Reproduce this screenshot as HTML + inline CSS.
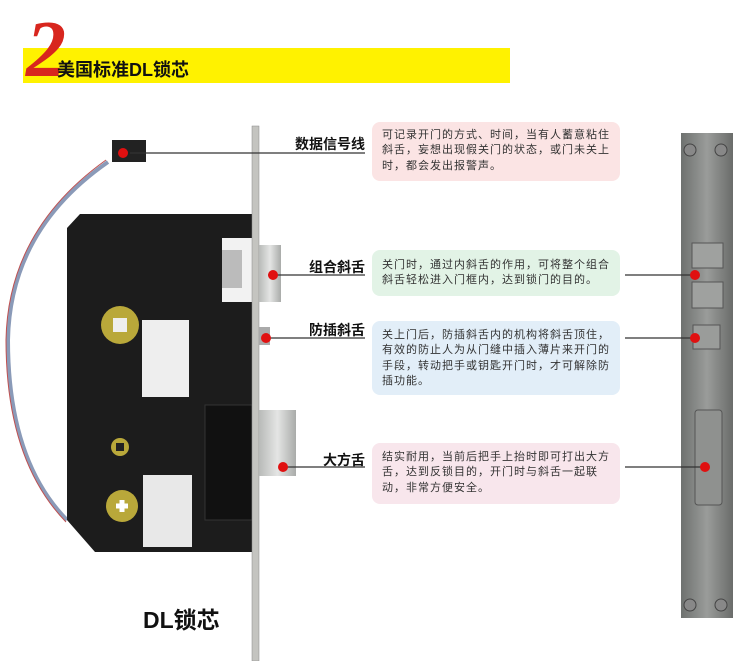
<!DOCTYPE html>
<html><head><meta charset="utf-8"><style>
body{margin:0;background:#fff;}
#c{position:relative;width:750px;height:661px;overflow:hidden;background:#fff;font-family:"Liberation Sans","Noto Sans CJK SC",sans-serif;}
.a{position:absolute;}
.box{position:absolute;border-radius:8px;font-size:11px;line-height:15.3px;color:#333;padding:6px 6px 0 10px;box-sizing:border-box;letter-spacing:1px;}
.lab{position:absolute;right:385px;font-weight:bold;font-size:14px;color:#111;width:120px;text-align:right;}
</style></head><body><div id="c">
<div class="a" style="left:23px;top:48px;width:487px;height:35px;background:#fff200"></div>
<div class="a" style="left:26px;top:10px;font-family:'Liberation Serif',serif;font-style:italic;font-weight:bold;font-size:80px;color:#d8261e;line-height:80px">2</div>
<div class="a" style="left:57px;top:56px;font-weight:bold;font-size:18px;color:#111">美国标准DL锁芯</div>

<svg class="a" style="left:0;top:0" width="750" height="661">
<defs>
<linearGradient id="g1" x1="0" x2="1"><stop offset="0" stop-color="#6e716f"/><stop offset=".5" stop-color="#9a9c9a"/><stop offset="1" stop-color="#6a6c6a"/></linearGradient>
<linearGradient id="g2" x1="0" x2="1"><stop offset="0" stop-color="#b8bab8"/><stop offset=".5" stop-color="#e4e5e4"/><stop offset="1" stop-color="#a9aba9"/></linearGradient>
</defs>
<path d="M108 162 Q10 230 8 340 Q8 460 67 520" fill="none" stroke="#8a9ab8" stroke-width="4"/>
<path d="M106 160 Q8 230 6 340 Q6 460 66 522" fill="none" stroke="#c05050" stroke-width="1"/>
<rect x="112" y="140" width="34" height="22" fill="#222"/>
<path d="M80 214 L252 214 L252 552 L95 552 L67 520 L67 228 Z" fill="#1c1c1c"/>
<rect x="222" y="238" width="30" height="64" fill="#f2f2f2"/>
<rect x="222" y="250" width="20" height="38" fill="#bbb"/>
<rect x="205" y="405" width="47" height="115" fill="#111" stroke="#333"/>
<circle cx="120" cy="325" r="19" fill="#b9a83a"/><rect x="113" y="318" width="14" height="14" fill="#eee"/>
<circle cx="122" cy="506" r="16" fill="#b9a83a"/><path d="M116 506h12M122 500v12" stroke="#fff" stroke-width="5"/>
<circle cx="120" cy="447" r="9" fill="#b9a83a"/><rect x="116" y="443" width="8" height="8" fill="#222"/>
<rect x="142" y="320" width="47" height="77" fill="#eee"/>
<rect x="143" y="475" width="49" height="72" fill="#e8e8e8"/>
<rect x="252" y="126" width="7" height="535" fill="#c4c4c0" stroke="#888" stroke-width=".5"/>
<rect x="259" y="245" width="22" height="57" fill="url(#g2)"/>
<rect x="259" y="327" width="11" height="18" fill="#aaa"/>
<rect x="259" y="410" width="37" height="66" fill="url(#g2)"/>
<rect x="681" y="133" width="52" height="485" fill="url(#g1)"/>
<g fill="#888" stroke="#444"><circle cx="690" cy="150" r="6"/><circle cx="721" cy="150" r="6"/><circle cx="690" cy="605" r="6"/><circle cx="721" cy="605" r="6"/></g>
<rect x="692" y="243" width="31" height="25" fill="#9fa19f" stroke="#555"/>
<rect x="692" y="282" width="31" height="26" fill="#9fa19f" stroke="#555"/>
<rect x="693" y="325" width="27" height="24" fill="#9a9c9a" stroke="#555"/>
<rect x="695" y="410" width="27" height="95" fill="#8f918f" stroke="#555" rx="3"/>
<g stroke="#333" stroke-width="1.3">
<line x1="130" y1="153" x2="365" y2="153"/><line x1="268" y1="275" x2="365" y2="275"/>
<line x1="266" y1="338" x2="365" y2="338"/><line x1="283" y1="467" x2="365" y2="467"/>
<line x1="625" y1="275" x2="695" y2="275"/><line x1="625" y1="338" x2="695" y2="338"/><line x1="625" y1="467" x2="705" y2="467"/>
</g>
<g fill="#e01010"><circle cx="123" cy="153" r="5"/><circle cx="273" cy="275" r="5"/><circle cx="266" cy="338" r="5"/><circle cx="283" cy="467" r="5"/>
<circle cx="695" cy="275" r="5"/><circle cx="695" cy="338" r="5"/><circle cx="705" cy="467" r="5"/></g>
</svg>

<div class="lab" style="top:134px">数据信号线</div>
<div class="lab" style="top:257px">组合斜舌</div>
<div class="lab" style="top:320px">防插斜舌</div>
<div class="lab" style="top:450px">大方舌</div>

<div class="box" style="left:372px;top:122px;width:248px;height:59px;background:#fbe4e4">可记录开门的方式、时间，当有人蓄意粘住斜舌，妄想出现假关门的状态，或门未关上时，都会发出报警声。</div>
<div class="box" style="left:372px;top:250px;width:248px;height:46px;background:#e2f3e6;padding-top:8px">关门时，通过内斜舌的作用，可将整个组合斜舌轻松进入门框内，达到锁门的目的。</div>
<div class="box" style="left:372px;top:321px;width:248px;height:74px;background:#e2eef8;padding-top:7px">关上门后，防插斜舌内的机构将斜舌顶住，有效的防止人为从门缝中插入薄片来开门的手段，转动把手或钥匙开门时，才可解除防插功能。</div>
<div class="box" style="left:372px;top:443px;width:248px;height:61px;background:#f8e6ec;padding-top:7px">结实耐用，当前后把手上抬时即可打出大方舌，达到反锁目的，开门时与斜舌一起联动，非常方便安全。</div>

<div class="a" style="left:143px;top:601px;font-weight:bold;font-size:23px;color:#111">DL锁芯</div>
</div></body></html>
